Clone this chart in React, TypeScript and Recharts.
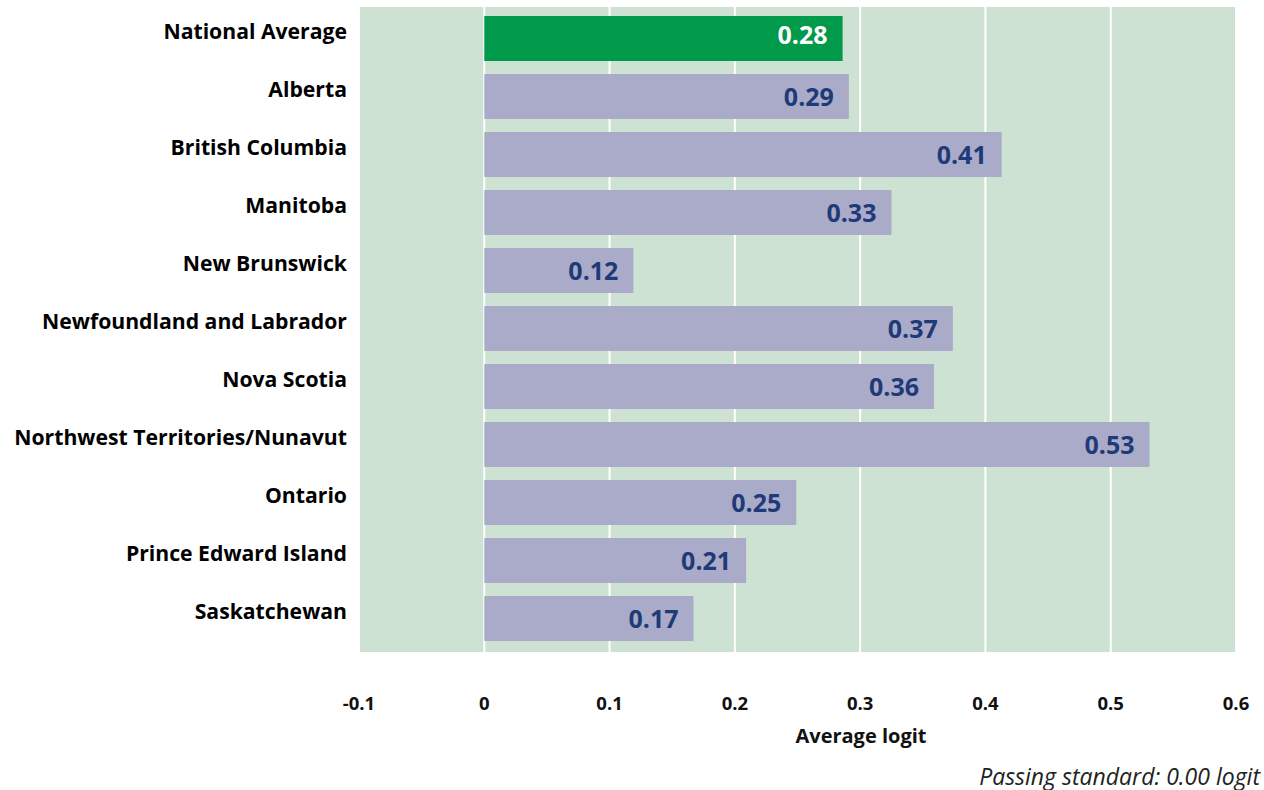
import React from "react";
import {
  BarChart,
  Bar,
  XAxis,
  YAxis,
  CartesianGrid,
  Cell,
  LabelList,
} from "recharts";

const regions = [
  "National Average",
  "Alberta",
  "British Columbia",
  "Manitoba",
  "New Brunswick",
  "Newfoundland and Labrador",
  "Nova Scotia",
  "Northwest Territories/Nunavut",
  "Ontario",
  "Prince Edward Island",
  "Saskatchewan",
];

const logits = [0.286, 0.291, 0.413, 0.325, 0.119, 0.374, 0.359, 0.531, 0.249, 0.209, 0.167];
const shownLabels = ["0.28", "0.29", "0.41", "0.33", "0.12", "0.37", "0.36", "0.53", "0.25", "0.21", "0.17"];
const xTicks = [-0.1, 0, 0.1, 0.2, 0.3, 0.4, 0.5, 0.6];

const data = regions.map((name, i) => ({
  name,
  value: logits[i],
  label: shownLabels[i],
}));

const FONT = "'Open Sans', 'Noto Sans', sans-serif";

const ValueLabel = (props: any) => {
  const { x, y, width, height, index } = props;
  const first = index === 0;
  return (
    <text
      x={x + width - 15}
      y={y + height / 2 + (first ? -1 : 3)}
      textAnchor="end"
      dominantBaseline="middle"
      fontFamily={FONT}
      fontWeight={700}
      fontSize={25}
      fill={first ? "#ffffff" : "#1f3a78"}
    >
      {data[index].label}
    </text>
  );
};

const XTick = (props: any) => {
  const { x, y, payload } = props;
  return (
    <text
      x={x}
      y={y + 50}
      textAnchor="middle"
      fontFamily={FONT}
      fontWeight={700}
      fontSize={18.5}
      fill="#111"
    >
      {payload.value}
    </text>
  );
};

const YTick = (props: any) => {
  const { x, y, payload } = props;
  return (
    <text
      x={x}
      y={y - 5}
      textAnchor="end"
      dominantBaseline="middle"
      fontFamily={FONT}
      fontWeight={700}
      fontSize={21.2}
      fill="#000"
    >
      {payload.value}
    </text>
  );
};

export default function App() {
  return (
    <div style={{ position: "absolute", left: 0, top: 0, width: 1264, height: 790, background: "#fff" }}>
      <BarChart
        width={1264}
        height={790}
        data={data}
        layout="vertical"
        margin={{ top: 7, right: 28, bottom: 68, left: 0 }}
        barSize={45}
      >
        <CartesianGrid
          horizontal={false}
          fill="#cde2d3"
          stroke="#ffffff"
          strokeWidth={2}
          fillOpacity={1}
        />
        <XAxis
          type="number"
          domain={[-0.1, 0.6]}
          ticks={xTicks}
          axisLine={false}
          tickLine={false}
          tick={<XTick />}
          height={70}
          interval={0}
        />
        <YAxis
          type="category"
          dataKey="name"
          width={359}
          axisLine={false}
          tickLine={false}
          tickMargin={6}
          interval={0}
          padding={{ top: 2, bottom: 5 }}
          tick={<YTick />}
        />
        <Bar dataKey="value" isAnimationActive={false}>
          {data.map((d, i) => (
            <Cell key={d.name} fill={i === 0 ? "#009a4a" : "#aaabc8"} />
          ))}
          <LabelList dataKey="label" content={<ValueLabel />} />
        </Bar>
      </BarChart>
      <div
        style={{
          position: "absolute",
          left: 761,
          width: 200,
          top: 722,
          textAlign: "center",
          fontFamily: FONT,
          fontWeight: 700,
          fontSize: 20,
          color: "#111",
        }}
      >
        Average logit
      </div>
      <div
        style={{
          position: "absolute",
          right: 4,
          top: 760,
          fontFamily: FONT,
          fontStyle: "italic",
          fontSize: 23,
          color: "#222",
        }}
      >
        Passing standard: 0.00 logit
      </div>
    </div>
  );
}
